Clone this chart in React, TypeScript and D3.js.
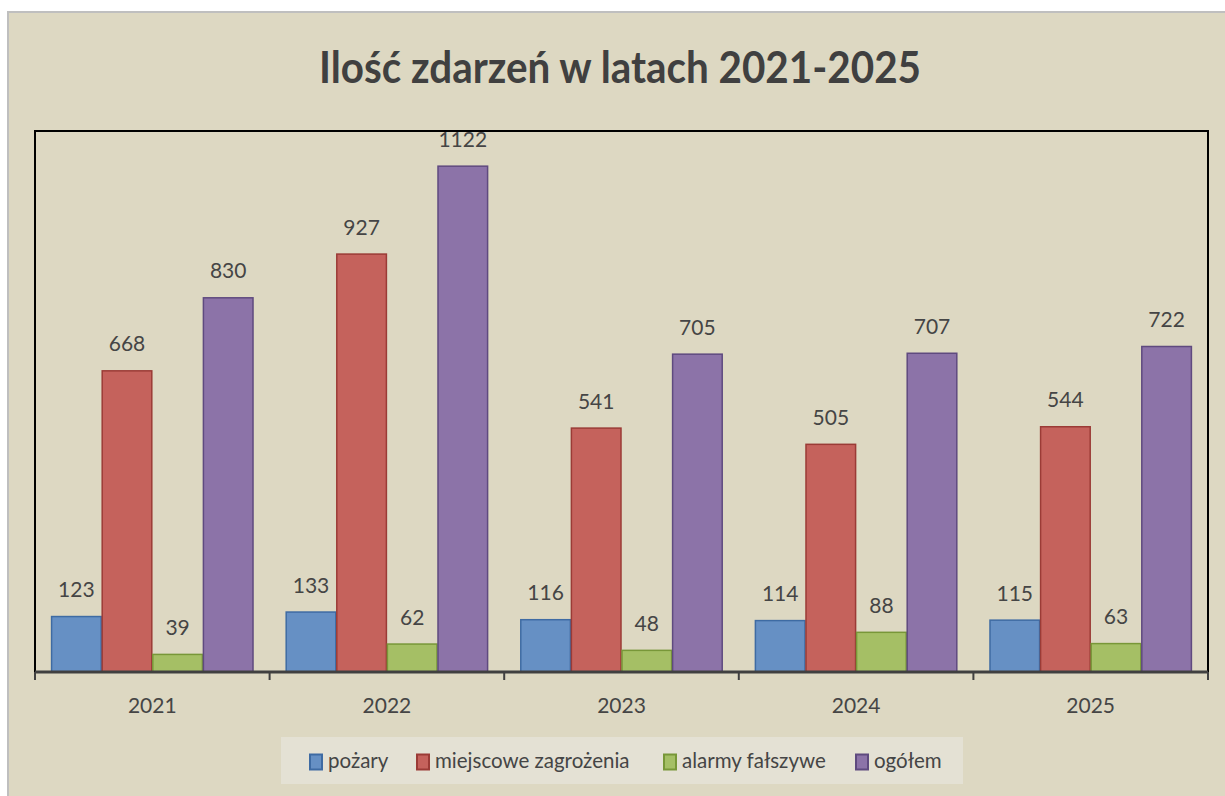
import React from "react";
import * as d3 from "d3";

const years = ["2021", "2022", "2023", "2024", "2025"];
const seriesNames = ["pożary", "miejscowe zagrożenia", "alarmy fałszywe", "ogółem"];
const pozary = [123, 133, 116, 114, 115];
const miejscowe = [668, 927, 541, 505, 544];
const alarmy = [39, 62, 48, 88, 63];
const ogolem = [830, 1122, 705, 707, 722];
const seriesValues = [pozary, miejscowe, alarmy, ogolem];
const fills = ["#6690C4", "#C5625C", "#A5BF65", "#8C73A8"];
const strokes = ["#3E6BA3", "#9B3B36", "#789738", "#5F4A7F"];
const title = "Ilość zdarzeń w latach 2021-2025";

const W = 1225;
const H = 796;
const plot = { left: 35, right: 1208, top: 131, bottom: 672 };
const legendX = [310, 417, 664, 856];

export default function App() {
  const x0 = d3.scaleBand<string>().domain(years).range([plot.left, plot.right]).padding(0);
  const x1 = d3
    .scaleBand<string>()
    .domain(seriesNames)
    .range([0, x0.bandwidth()])
    .paddingInner(0)
    .paddingOuter(0.318);
  const y = d3.scaleLinear().domain([0, 1200]).range([plot.bottom, plot.top]);
  const textColor = "#454545";
  const font = "Lato, 'Open Sans', sans-serif";
  const ticks = years.map((yr) => x0(yr)!).concat([plot.right]);

  return (
    <svg
      width={W}
      height={H}
      style={{ position: "absolute", left: 0, top: 0, display: "block" }}
    >
      <rect x={0} y={0} width={W} height={H} fill="#ffffff" />
      <rect x={8} y={12} width={W + 10} height={H + 10} fill="#DDD8C2" stroke="#BFBFBF" strokeWidth={2} />
      <text
        x={(318 + 922) / 2}
        y={83}
        textAnchor="middle"
        fontFamily={font}
        fontWeight={700}
        fontSize={44}
        fill="#404040"
        textLength={602}
        lengthAdjust="spacingAndGlyphs"
      >
        {title}
      </text>
      <rect
        x={plot.left}
        y={plot.top}
        width={plot.right - plot.left}
        height={plot.bottom - plot.top}
        fill="none"
        stroke="#000"
        strokeWidth={2}
      />
      {years.map((yr, i) => (
        <g key={yr} transform={`translate(${x0(yr)},0)`}>
          {seriesNames.map((s, j) => {
            const v = seriesValues[j][i];
            return (
              <rect
                key={s}
                x={x1(s)! + 0.5}
                y={y(v)}
                width={x1.bandwidth() - 1}
                height={y(0) - y(v)}
                fill={fills[j]}
                stroke={strokes[j]}
                strokeWidth={1.5}
              />
            );
          })}
        </g>
      ))}
      <line x1={plot.left} x2={plot.right} y1={plot.bottom} y2={plot.bottom} stroke="#404040" strokeWidth={3} />
      {ticks.map((t, i) => (
        <line key={i} x1={t} x2={t} y1={plot.bottom} y2={plot.bottom + 8} stroke="#404040" strokeWidth={2} />
      ))}
      {years.map((yr, i) => (
        <g key={yr + "l"} transform={`translate(${x0(yr)},0)`}>
          {seriesNames.map((s, j) => {
            const v = seriesValues[j][i];
            return (
              <text
                key={s}
                x={x1(s)! + x1.bandwidth() / 2}
                y={y(v) - 19.5}
                textAnchor="middle"
                fontFamily={font}
                fontSize={21}
                fill={textColor}
              >
                {v}
              </text>
            );
          })}
        </g>
      ))}
      {years.map((yr) => (
        <text
          key={yr + "c"}
          x={x0(yr)! + x0.bandwidth() / 2}
          y={713}
          textAnchor="middle"
          fontFamily={font}
          fontSize={21}
          fill={textColor}
        >
          {yr}
        </text>
      ))}
      <rect x={281} y={737} width={682} height={47} fill="#E4E1D4" />
      {seriesNames.map((s, j) => (
        <g key={s + "leg"}>
          <rect
            x={legendX[j]}
            y={754.5}
            width={12}
            height={15}
            fill={fills[j]}
            stroke={strokes[j]}
            strokeWidth={2}
          />
          <text x={legendX[j] + 18} y={768} fontFamily={font} fontSize={20.5} fill={textColor}>
            {s}
          </text>
        </g>
      ))}
    </svg>
  );
}
